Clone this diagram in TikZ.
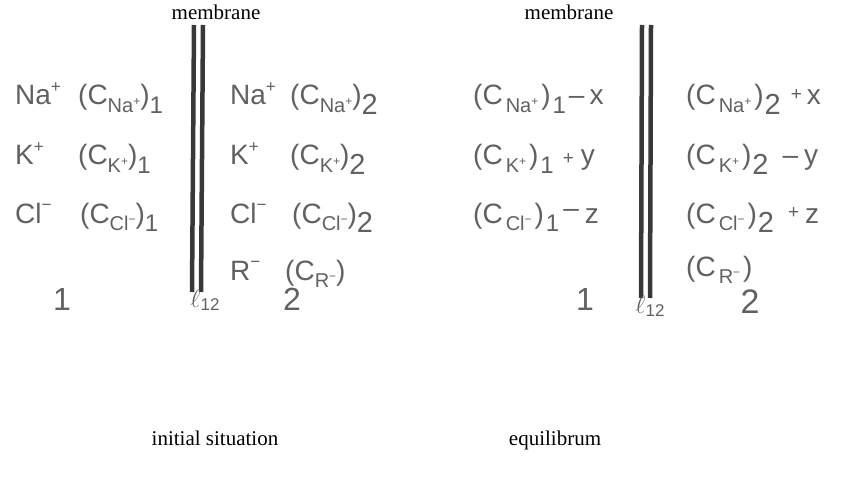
\documentclass[tikz,border=0pt]{standalone}
\usepackage{fontspec}
\setmainfont{Liberation Serif}
\newfontfamily\ionfam{Liberation Sans}
\definecolor{inkgray}{gray}{0.38}
\definecolor{memgray}{gray}{0.22}
\newcommand\subs[1]{\raisebox{-0.28em}{\fontsize{20}{20}\selectfont #1}}
\newcommand\wsubs[1]{\kern3pt\raisebox{-0.28em}{\fontsize{20}{20}\selectfont #1}\kern3pt}
\newcommand\sups[1]{\raisebox{0.45em}{\fontsize{17}{17}\selectfont #1}}
\newcommand\tsup[1]{\raisebox{0.35em}{\fontsize{12}{12}\selectfont #1}}
\newcommand\idx[1]{\raisebox{-0.3em}{\fontsize{24}{24}\selectfont #1}}
\newcommand\bidx[1]{\raisebox{-0.33em}{\fontsize{29}{29}\selectfont #1}}
\newcommand\sm[1]{{\fontsize{19}{19}\selectfont #1}}
\newcommand\lsym{{\fontsize{32}{32}\selectfont$\ell$}\raisebox{-0.3em}{\ionfam\fontsize{17}{17}\selectfont 12}}
\begin{document}
\begin{tikzpicture}[x=1pt,y=-1pt,
  ion/.style={anchor=base west,text=inkgray,font=\ionfam\fontsize{28}{32}\selectfont,inner sep=0pt},
  num/.style={anchor=base,text=inkgray,font=\ionfam\fontsize{32}{34}\selectfont,inner sep=0pt},
  lab/.style={anchor=base,font=\fontsize{21}{25}\selectfont,inner sep=0pt},
  mem/.style={draw=memgray,line width=4.5pt},
  sym/.style={anchor=north,text=inkgray,inner sep=0pt}]
\useasboundingbox (0,0) rectangle (842,486);
% ---------- initial situation ----------
\node[lab] (m1) at (216,20) {membrane};
\coordinate (m1ta) at (194,25); \coordinate (m1ba) at (192,292);
\coordinate (m1tb) at (203,25); \coordinate (m1bb) at (201,292);
\draw[mem] (m1ta) -- (m1ba);
\draw[mem] (m1tb) -- (m1bb);
\node[sym] (l1) at (205,290) {\lsym};

\node[ion] (a1) at (15,105) {Na\sups{+}};
\node[ion] (a1c) at (78,105) {(C\subs{Na\tsup{+}})\idx{1}};
\node[ion] (a2) at (15,165) {K\sups{+}};
\node[ion] (a2c) at (78,165) {(C\subs{K\tsup{+}})\idx{1}};
\node[ion] (a3) at (15,223) {Cl\sups{−}};
\node[ion] (a3c) at (80,223) {(C\subs{Cl\tsup{−}})\idx{1}};
\node[num] (n1) at (62,310) {1};

\node[ion] (b1) at (230,105) {Na\sups{+}};
\node[ion] (b1c) at (290,105) {(C\subs{Na\tsup{+}})\bidx{2}};
\node[ion] (b2) at (230,165) {K\sups{+}};
\node[ion] (b2c) at (290,165) {(C\subs{K\tsup{+}})\bidx{2}};
\node[ion] (b3) at (230,223) {Cl\sups{−}};
\node[ion] (b3c) at (292,223) {(C\subs{Cl\tsup{−}})\bidx{2}};
\node[ion] (b4) at (230,280) {R\sups{−}};
\node[ion] (b4c) at (285,280) {(C\subs{R\tsup{−}})};
\node[num] (n2) at (292,310) {2};
\node[lab] (t1) at (215,445) {initial situation};

% ---------- equilibrium ----------
\node[lab] (m2) at (569,20) {membrane};
\coordinate (m2ta) at (642,25); \coordinate (m2ba) at (641,298);
\coordinate (m2tb) at (651,25); \coordinate (m2bb) at (650,298);
\draw[mem] (m2ta) -- (m2ba);
\draw[mem] (m2tb) -- (m2bb);
\node[sym] (l2) at (650,296) {\lsym};

\node[ion] (c1) at (473,105) {(C\wsubs{Na\tsup{+}})\kern2pt\idx{1}\kern3pt–\kern5pt x};
\node[ion] (c2) at (473,165) {(C\wsubs{K\tsup{+}})\kern2pt\idx{1}\kern9pt\sm{+}\kern7pt y};
\node[ion] (c3) at (473,223) {(C\wsubs{Cl\tsup{−}})\kern2pt\idx{1}\kern4pt\raisebox{0.2em}{–}\kern6pt z};
\node[num] (n3) at (585,310) {1};

\node[ion] (d1) at (686,105) {(C\wsubs{Na\tsup{+}})\kern1pt\bidx{2}\kern10pt\raisebox{0.15em}{\sm{+}}\kern5pt x};
\node[ion] (d2) at (686,165) {(C\wsubs{K\tsup{+}})\kern1pt\bidx{2}\kern14pt–\kern6pt y};
\node[ion] (d3) at (686,223) {(C\wsubs{Cl\tsup{−}})\kern1pt\bidx{2}\kern14pt\raisebox{0.15em}{\sm{+}}\kern6pt z};
\node[ion] (d4) at (686,276) {(C\wsubs{R\tsup{−}})};
\node[num] (n4) at (750,313) {\fontsize{34}{34}\selectfont 2};
\node[lab] (t2) at (555,445) {equilibrum};
\end{tikzpicture}
\end{document}
